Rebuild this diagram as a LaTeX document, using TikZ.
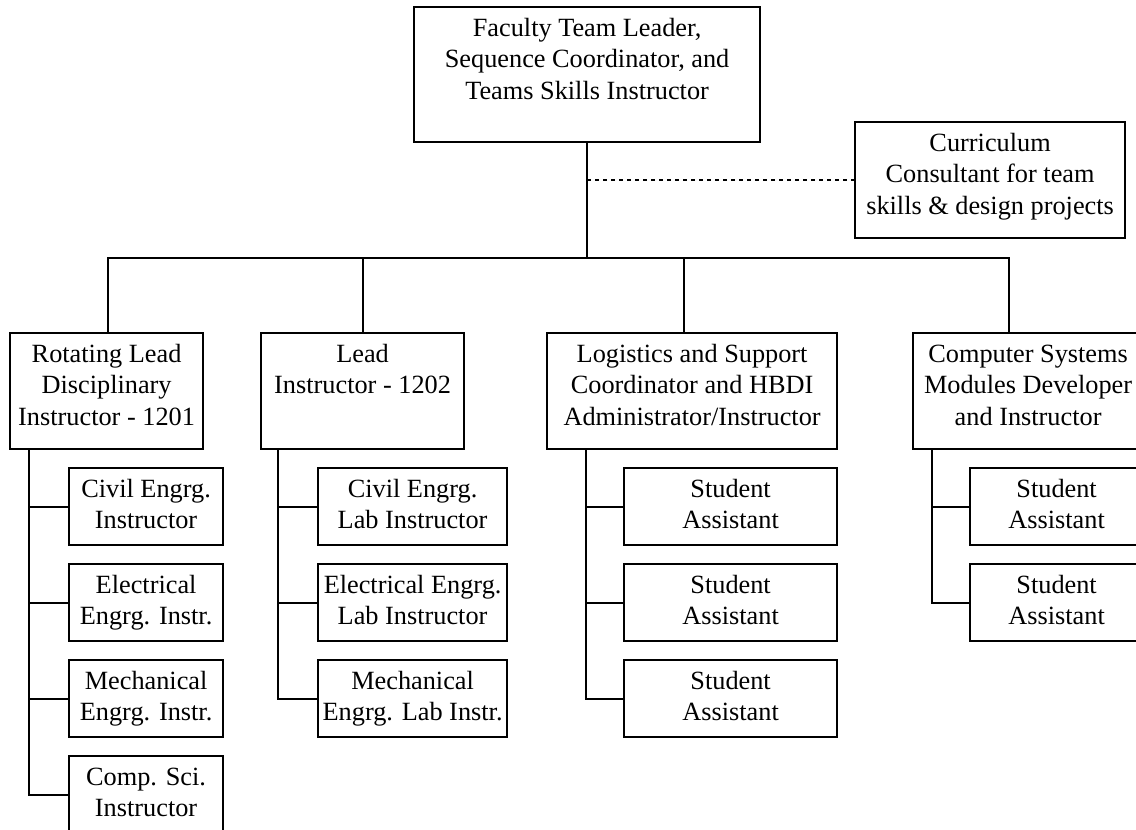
\documentclass[tikz,border=0pt]{standalone}
\usepackage{fontspec}
\setmainfont{Liberation Serif}
\newcommand{\boxtext}[3]{\parbox[t][#2][t]{#1}{\centering\vspace*{7.5pt}\strut#3}}

\begin{document}
\begin{tikzpicture}[x=1pt, y=-1pt, line width=2.2pt,
    every node/.style={font=\fontsize{26.3}{31.3}\selectfont},
    box/.style={draw, inner sep=0pt, anchor=north west},
    dots/.style={line width=1.6pt, dash pattern=on 4pt off 4pt}]
    \useasboundingbox (0,0) rectangle (1136,830);

    \node[box](lead) at (413,6) {\boxtext{346pt}{135pt}{Faculty Team Leader,\\ Sequence Coordinator, and\\ Teams Skills Instructor}};
    \node[box](cc) at (854,121) {\boxtext{270pt}{116pt}{Curriculum\\ Consultant for team\\ skills \& design projects}};

    \node[box](rot) at (9,332) {\boxtext{193pt}{116pt}{Rotating Lead\\ Disciplinary\\ Instructor - 1201}};
    \node[box](lab) at (260,332) {\boxtext{203pt}{116pt}{Lead\\ Instructor - 1202}};
    \node[box](log) at (546,332) {\boxtext{290pt}{116pt}{Logistics and Support\\ Coordinator and HBDI\\ Administrator/Instructor}};
    \node[box](cs) at (912,332) {\boxtext{230pt}{116pt}{Computer Systems\\ Modules Developer\\ and Instructor}};

    \node[box](r1) at (68,467) {\boxtext{154pt}{77pt}{Civil Engrg.\\ Instructor}};
    \node[box](r2) at (68,563) {\boxtext{154pt}{77pt}{Electrical\\ Engrg. Instr.}};
    \node[box](r3) at (68,659) {\boxtext{154pt}{77pt}{Mechanical\\ Engrg. Instr.}};
    \node[box](r4) at (68,755) {\boxtext{154pt}{77pt}{Comp. Sci.\\ Instructor}};

    \node[box](l1) at (317,467) {\boxtext{189pt}{77pt}{Civil Engrg.\\ Lab Instructor}};
    \node[box](l2) at (317,563) {\boxtext{189pt}{77pt}{Electrical Engrg.\\ Lab Instructor}};
    \node[box](l3) at (317,659) {\boxtext{189pt}{77pt}{Mechanical\\ Engrg. Lab Instr.}};

    \node[box](g1) at (623,467) {\boxtext{213pt}{77pt}{Student\\ Assistant}};
    \node[box](g2) at (623,563) {\boxtext{213pt}{77pt}{Student\\ Assistant}};
    \node[box](g3) at (623,659) {\boxtext{213pt}{77pt}{Student\\ Assistant}};

    \node[box](c1) at (969,467) {\boxtext{173pt}{77pt}{Student\\ Assistant}};
    \node[box](c2) at (969,563) {\boxtext{173pt}{77pt}{Student\\ Assistant}};

    % trunk and bus
    \coordinate(hub) at (lead.south |- 0,258);
    \draw (lead.south) -- (hub);
    \draw[dots] (lead.south |- cc.west) -- (cc.west);
    \draw ([xshift=1.5pt]rot.north) |- (hub) -| ([xshift=-19pt]cs.north);
    \draw (lab.north) -- (lab.north |- hub);
    \draw ([xshift=-8pt]log.north) -- ([xshift=-8pt]log.north |- hub);

    % spines
    \coordinate(rs) at ([xshift=20pt]rot.south west);
    \coordinate(ls) at ([xshift=18pt]lab.south west);
    \coordinate(gs) at ([xshift=40pt]log.south west);
    \coordinate(cv) at ([xshift=20pt]cs.south west);
    \draw (rs) |- (r4.west);
    \draw (ls) |- (l3.west);
    \draw (gs) |- (g3.west);
    \draw (cv) |- (c2.west);
    \foreach \n in {1,2,3}
        \draw (r\n.west) -- (r\n.west -| rs);
    \foreach \n in {1,2}
        \draw (l\n.west) -- (l\n.west -| ls)
              (g\n.west) -- (g\n.west -| gs);
    \draw (c1.west) -- (c1.west -| cv);
\end{tikzpicture}
\end{document}
